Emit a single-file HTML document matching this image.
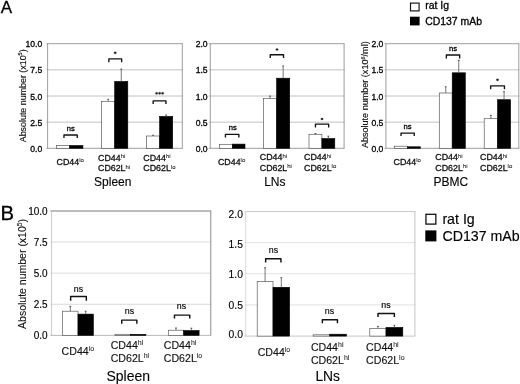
<!DOCTYPE html>
<html><head><meta charset="utf-8"><title>Figure</title>
<style>html,body{margin:0;padding:0;background:#fff;}body{width:520px;height:384px;overflow:hidden;}svg{display:block;will-change:transform;opacity:0.999;font-family:'Liberation Sans', sans-serif;}</style>
</head><body>
<svg width="520" height="384" viewBox="0 0 520 384">
<rect width="520" height="384" fill="#fff"/>
<text x="0.80" y="12.70" font-size="17" text-anchor="start" fill="#000" stroke="#000" stroke-width="0.3" >A</text>
<text x="0.50" y="220.40" font-size="20.3" text-anchor="start" fill="#000" stroke="#000" stroke-width="0.3" >B</text>
<line x1="46.40" y1="69.85" x2="182.80" y2="69.85" stroke="#b2b2b2" stroke-width="0.8"/>
<line x1="46.40" y1="96.00" x2="182.80" y2="96.00" stroke="#b2b2b2" stroke-width="0.8"/>
<line x1="46.40" y1="122.15" x2="182.80" y2="122.15" stroke="#b2b2b2" stroke-width="0.8"/>
<line x1="46.40" y1="43.70" x2="182.80" y2="43.70" stroke="#848484" stroke-width="0.8"/>
<line x1="46.40" y1="148.30" x2="182.80" y2="148.30" stroke="#848484" stroke-width="0.8"/>
<line x1="47.60" y1="43.70" x2="47.60" y2="148.30" stroke="#848484" stroke-width="0.8"/>
<line x1="182.30" y1="43.70" x2="182.30" y2="148.30" stroke="#848484" stroke-width="0.8"/>
<text x="42.20" y="47.25" font-size="8.6" text-anchor="end" fill="#000" stroke="#000" stroke-width="0.3" >10.0</text>
<text x="42.20" y="73.40" font-size="8.6" text-anchor="end" fill="#000" stroke="#000" stroke-width="0.3" >7.5</text>
<text x="42.20" y="99.55" font-size="8.6" text-anchor="end" fill="#000" stroke="#000" stroke-width="0.3" >5.0</text>
<text x="42.20" y="125.70" font-size="8.6" text-anchor="end" fill="#000" stroke="#000" stroke-width="0.3" >2.5</text>
<text x="42.20" y="151.85" font-size="8.6" text-anchor="end" fill="#000" stroke="#000" stroke-width="0.3" >0.0</text>
<line x1="209.10" y1="69.85" x2="344.60" y2="69.85" stroke="#b2b2b2" stroke-width="0.8"/>
<line x1="209.10" y1="96.00" x2="344.60" y2="96.00" stroke="#b2b2b2" stroke-width="0.8"/>
<line x1="209.10" y1="122.15" x2="344.60" y2="122.15" stroke="#b2b2b2" stroke-width="0.8"/>
<line x1="209.10" y1="43.70" x2="344.60" y2="43.70" stroke="#848484" stroke-width="0.8"/>
<line x1="209.10" y1="148.30" x2="344.60" y2="148.30" stroke="#848484" stroke-width="0.8"/>
<line x1="210.30" y1="43.70" x2="210.30" y2="148.30" stroke="#848484" stroke-width="0.8"/>
<line x1="344.10" y1="43.70" x2="344.10" y2="148.30" stroke="#848484" stroke-width="0.8"/>
<text x="207.60" y="47.25" font-size="8.6" text-anchor="end" fill="#000" stroke="#000" stroke-width="0.3" >2.0</text>
<text x="207.60" y="73.40" font-size="8.6" text-anchor="end" fill="#000" stroke="#000" stroke-width="0.3" >1.5</text>
<text x="207.60" y="99.55" font-size="8.6" text-anchor="end" fill="#000" stroke="#000" stroke-width="0.3" >1.0</text>
<text x="207.60" y="125.70" font-size="8.6" text-anchor="end" fill="#000" stroke="#000" stroke-width="0.3" >0.5</text>
<text x="207.60" y="151.85" font-size="8.6" text-anchor="end" fill="#000" stroke="#000" stroke-width="0.3" >0.0</text>
<line x1="384.70" y1="69.85" x2="519.30" y2="69.85" stroke="#b2b2b2" stroke-width="0.8"/>
<line x1="384.70" y1="96.00" x2="519.30" y2="96.00" stroke="#b2b2b2" stroke-width="0.8"/>
<line x1="384.70" y1="122.15" x2="519.30" y2="122.15" stroke="#b2b2b2" stroke-width="0.8"/>
<line x1="384.70" y1="43.70" x2="519.30" y2="43.70" stroke="#848484" stroke-width="0.8"/>
<line x1="384.70" y1="148.30" x2="519.30" y2="148.30" stroke="#848484" stroke-width="0.8"/>
<line x1="385.90" y1="43.70" x2="385.90" y2="148.30" stroke="#848484" stroke-width="0.8"/>
<line x1="518.80" y1="43.70" x2="518.80" y2="148.30" stroke="#848484" stroke-width="0.8"/>
<text x="383.40" y="47.25" font-size="8.6" text-anchor="end" fill="#000" stroke="#000" stroke-width="0.3" >2.0</text>
<text x="383.40" y="73.40" font-size="8.6" text-anchor="end" fill="#000" stroke="#000" stroke-width="0.3" >1.5</text>
<text x="383.40" y="99.55" font-size="8.6" text-anchor="end" fill="#000" stroke="#000" stroke-width="0.3" >1.0</text>
<text x="383.40" y="125.70" font-size="8.6" text-anchor="end" fill="#000" stroke="#000" stroke-width="0.3" >0.5</text>
<text x="383.40" y="151.85" font-size="8.6" text-anchor="end" fill="#000" stroke="#000" stroke-width="0.3" >0.0</text>
<rect x="56.50" y="145.40" width="13.20" height="2.90" fill="#fff" stroke="#505050" stroke-width="0.65"/>
<rect x="69.70" y="145.50" width="13.20" height="2.80" fill="#000" stroke="#000" stroke-width="0.6"/>
<rect x="101.60" y="101.30" width="13.10" height="47.00" fill="#fff" stroke="#505050" stroke-width="0.65"/>
<rect x="114.70" y="81.40" width="13.10" height="66.90" fill="#000" stroke="#000" stroke-width="0.6"/>
<line x1="108.15" y1="99.30" x2="108.15" y2="101.30" stroke="#555" stroke-width="0.8"/>
<line x1="107.25" y1="99.30" x2="109.05" y2="99.30" stroke="#444" stroke-width="0.9"/>
<line x1="121.25" y1="69.10" x2="121.25" y2="81.40" stroke="#555" stroke-width="0.8"/>
<line x1="120.35" y1="69.10" x2="122.15" y2="69.10" stroke="#444" stroke-width="0.9"/>
<rect x="146.50" y="136.00" width="13.10" height="12.30" fill="#fff" stroke="#505050" stroke-width="0.65"/>
<rect x="159.60" y="116.40" width="13.10" height="31.90" fill="#000" stroke="#000" stroke-width="0.6"/>
<line x1="153.05" y1="135.20" x2="153.05" y2="136.00" stroke="#555" stroke-width="0.8"/>
<line x1="152.15" y1="135.20" x2="153.95" y2="135.20" stroke="#444" stroke-width="0.9"/>
<line x1="166.15" y1="115.00" x2="166.15" y2="116.40" stroke="#555" stroke-width="0.8"/>
<line x1="165.25" y1="115.00" x2="167.05" y2="115.00" stroke="#444" stroke-width="0.9"/>
<path d="M63.95 138.10 L63.95 135.00 L77.25 135.00 L77.25 138.10" fill="none" stroke="#111" stroke-width="1.35" stroke-linejoin="round"/>
<text x="70.70" y="130.65" font-size="7.6" text-anchor="middle" fill="#000" stroke="#000" stroke-width="0.3" >ns</text>
<path d="M108.85 62.20 L108.85 58.90 L121.65 58.90 L121.65 62.20" fill="none" stroke="#111" stroke-width="1.35" stroke-linejoin="round"/>
<circle cx="115.20" cy="52.85" r="1.80" fill="#000" fill-opacity="0.13"/>
<ellipse cx="115.20" cy="52.85" rx="1.25" ry="1.05" fill="#1a1a1a"/>
<path d="M153.15 104.10 L153.15 100.90 L165.95 100.90 L165.95 104.10" fill="none" stroke="#111" stroke-width="1.35" stroke-linejoin="round"/>
<circle cx="156.60" cy="93.35" r="1.80" fill="#000" fill-opacity="0.13"/>
<ellipse cx="156.60" cy="93.35" rx="1.25" ry="1.05" fill="#1a1a1a"/>
<circle cx="159.60" cy="93.35" r="1.80" fill="#000" fill-opacity="0.13"/>
<ellipse cx="159.60" cy="93.35" rx="1.25" ry="1.05" fill="#1a1a1a"/>
<circle cx="162.60" cy="93.35" r="1.80" fill="#000" fill-opacity="0.13"/>
<ellipse cx="162.60" cy="93.35" rx="1.25" ry="1.05" fill="#1a1a1a"/>
<rect x="219.40" y="144.30" width="12.90" height="4.00" fill="#fff" stroke="#505050" stroke-width="0.65"/>
<rect x="232.30" y="144.10" width="12.70" height="4.20" fill="#000" stroke="#000" stroke-width="0.6"/>
<rect x="263.50" y="98.40" width="13.10" height="49.90" fill="#fff" stroke="#505050" stroke-width="0.65"/>
<rect x="276.60" y="78.20" width="13.10" height="70.10" fill="#000" stroke="#000" stroke-width="0.6"/>
<line x1="270.05" y1="96.10" x2="270.05" y2="98.40" stroke="#555" stroke-width="0.8"/>
<line x1="269.15" y1="96.10" x2="270.95" y2="96.10" stroke="#444" stroke-width="0.9"/>
<line x1="283.15" y1="66.00" x2="283.15" y2="78.20" stroke="#555" stroke-width="0.8"/>
<line x1="282.25" y1="66.00" x2="284.05" y2="66.00" stroke="#444" stroke-width="0.9"/>
<rect x="309.00" y="134.30" width="12.90" height="14.00" fill="#fff" stroke="#505050" stroke-width="0.65"/>
<rect x="321.90" y="138.50" width="12.90" height="9.80" fill="#000" stroke="#000" stroke-width="0.6"/>
<line x1="315.45" y1="133.50" x2="315.45" y2="134.30" stroke="#555" stroke-width="0.8"/>
<line x1="314.55" y1="133.50" x2="316.35" y2="133.50" stroke="#444" stroke-width="0.9"/>
<line x1="328.35" y1="136.20" x2="328.35" y2="138.50" stroke="#555" stroke-width="0.8"/>
<line x1="327.45" y1="136.20" x2="329.25" y2="136.20" stroke="#444" stroke-width="0.9"/>
<path d="M225.45 137.40 L225.45 134.30 L238.85 134.30 L238.85 137.40" fill="none" stroke="#111" stroke-width="1.35" stroke-linejoin="round"/>
<text x="232.80" y="129.55" font-size="7.6" text-anchor="middle" fill="#000" stroke="#000" stroke-width="0.3" >ns</text>
<path d="M270.25 58.00 L270.25 54.70 L283.55 54.70 L283.55 58.00" fill="none" stroke="#111" stroke-width="1.35" stroke-linejoin="round"/>
<circle cx="277.00" cy="49.45" r="1.80" fill="#000" fill-opacity="0.13"/>
<ellipse cx="277.00" cy="49.45" rx="1.25" ry="1.05" fill="#1a1a1a"/>
<path d="M315.45 127.40 L315.45 124.10 L328.65 124.10 L328.65 127.40" fill="none" stroke="#111" stroke-width="1.35" stroke-linejoin="round"/>
<circle cx="322.00" cy="119.05" r="1.80" fill="#000" fill-opacity="0.13"/>
<ellipse cx="322.00" cy="119.05" rx="1.25" ry="1.05" fill="#1a1a1a"/>
<rect x="394.30" y="146.20" width="13.10" height="2.10" fill="#fff" stroke="#505050" stroke-width="0.65"/>
<rect x="407.40" y="146.80" width="13.10" height="1.50" fill="#000" stroke="#000" stroke-width="0.6"/>
<rect x="439.30" y="93.00" width="12.90" height="55.30" fill="#fff" stroke="#505050" stroke-width="0.65"/>
<rect x="452.20" y="72.80" width="13.10" height="75.50" fill="#000" stroke="#000" stroke-width="0.6"/>
<line x1="445.75" y1="86.80" x2="445.75" y2="93.00" stroke="#555" stroke-width="0.8"/>
<line x1="444.85" y1="86.80" x2="446.65" y2="86.80" stroke="#444" stroke-width="0.9"/>
<line x1="458.75" y1="60.30" x2="458.75" y2="72.80" stroke="#555" stroke-width="0.8"/>
<line x1="457.85" y1="60.30" x2="459.65" y2="60.30" stroke="#444" stroke-width="0.9"/>
<rect x="484.20" y="118.70" width="13.30" height="29.60" fill="#fff" stroke="#505050" stroke-width="0.65"/>
<rect x="497.50" y="99.70" width="13.10" height="48.60" fill="#000" stroke="#000" stroke-width="0.6"/>
<line x1="490.85" y1="115.40" x2="490.85" y2="118.70" stroke="#555" stroke-width="0.8"/>
<line x1="489.95" y1="115.40" x2="491.75" y2="115.40" stroke="#444" stroke-width="0.9"/>
<line x1="504.05" y1="91.70" x2="504.05" y2="99.70" stroke="#555" stroke-width="0.8"/>
<line x1="503.15" y1="91.70" x2="504.95" y2="91.70" stroke="#444" stroke-width="0.9"/>
<path d="M401.05 136.00 L401.05 133.10 L414.25 133.10 L414.25 136.00" fill="none" stroke="#111" stroke-width="1.35" stroke-linejoin="round"/>
<text x="407.60" y="128.65" font-size="7.6" text-anchor="middle" fill="#000" stroke="#000" stroke-width="0.3" >ns</text>
<path d="M446.35 58.40 L446.35 55.00 L459.65 55.00 L459.65 58.40" fill="none" stroke="#111" stroke-width="1.35" stroke-linejoin="round"/>
<text x="453.10" y="51.35" font-size="7.6" text-anchor="middle" fill="#000" stroke="#000" stroke-width="0.3" >ns</text>
<path d="M490.65 89.20 L490.65 85.90 L504.45 85.90 L504.45 89.20" fill="none" stroke="#111" stroke-width="1.35" stroke-linejoin="round"/>
<circle cx="497.50" cy="79.85" r="1.80" fill="#000" fill-opacity="0.13"/>
<ellipse cx="497.50" cy="79.85" rx="1.25" ry="1.05" fill="#1a1a1a"/>
<text x="56.60" y="164.90" font-size="8.85" fill="#111" stroke="#111" stroke-width="0.3">CD44<tspan font-size="6.0" dy="-2.57" stroke-width="0.1" fill="#333">lo</tspan></text>
<text x="217.95" y="164.50" font-size="8.85" fill="#111" stroke="#111" stroke-width="0.3">CD44<tspan font-size="6.0" dy="-2.57" stroke-width="0.1" fill="#333">lo</tspan></text>
<text x="393.55" y="164.55" font-size="8.85" fill="#111" stroke="#111" stroke-width="0.3">CD44<tspan font-size="6.0" dy="-2.57" stroke-width="0.1" fill="#333">lo</tspan></text>
<text x="98.00" y="160.60" font-size="8.85" fill="#111" stroke="#111" stroke-width="0.3">CD44<tspan font-size="6.0" dy="-2.57" stroke-width="0.1" fill="#333">hi</tspan></text>
<text x="98.00" y="171.15" font-size="8.85" fill="#111" stroke="#111" stroke-width="0.3">CD62L<tspan font-size="6.0" dy="-2.57" stroke-width="0.1" fill="#333">hi</tspan></text>
<text x="259.75" y="160.20" font-size="8.85" fill="#111" stroke="#111" stroke-width="0.3">CD44<tspan font-size="6.0" dy="-2.57" stroke-width="0.1" fill="#333">hi</tspan></text>
<text x="259.75" y="170.75" font-size="8.85" fill="#111" stroke="#111" stroke-width="0.3">CD62L<tspan font-size="6.0" dy="-2.57" stroke-width="0.1" fill="#333">hi</tspan></text>
<text x="435.35" y="160.25" font-size="8.85" fill="#111" stroke="#111" stroke-width="0.3">CD44<tspan font-size="6.0" dy="-2.57" stroke-width="0.1" fill="#333">hi</tspan></text>
<text x="435.35" y="170.80" font-size="8.85" fill="#111" stroke="#111" stroke-width="0.3">CD62L<tspan font-size="6.0" dy="-2.57" stroke-width="0.1" fill="#333">hi</tspan></text>
<text x="143.30" y="160.60" font-size="8.85" fill="#111" stroke="#111" stroke-width="0.3">CD44<tspan font-size="6.0" dy="-2.57" stroke-width="0.1" fill="#333">hi</tspan></text>
<text x="143.30" y="171.15" font-size="8.85" fill="#111" stroke="#111" stroke-width="0.3">CD62L<tspan font-size="6.0" dy="-2.57" stroke-width="0.1" fill="#333">lo</tspan></text>
<text x="304.05" y="160.20" font-size="8.85" fill="#111" stroke="#111" stroke-width="0.3">CD44<tspan font-size="6.0" dy="-2.57" stroke-width="0.1" fill="#333">hi</tspan></text>
<text x="304.05" y="170.75" font-size="8.85" fill="#111" stroke="#111" stroke-width="0.3">CD62L<tspan font-size="6.0" dy="-2.57" stroke-width="0.1" fill="#333">lo</tspan></text>
<text x="480.05" y="160.25" font-size="8.85" fill="#111" stroke="#111" stroke-width="0.3">CD44<tspan font-size="6.0" dy="-2.57" stroke-width="0.1" fill="#333">hi</tspan></text>
<text x="480.05" y="170.80" font-size="8.85" fill="#111" stroke="#111" stroke-width="0.3">CD62L<tspan font-size="6.0" dy="-2.57" stroke-width="0.1" fill="#333">lo</tspan></text>
<text x="94.10" y="186.40" font-size="12.0" text-anchor="start" fill="#000" stroke="#000" stroke-width="0.12" >Spleen</text>
<text x="264.20" y="186.40" font-size="12.0" text-anchor="start" fill="#000" stroke="#000" stroke-width="0.12" >LNs</text>
<text x="433.40" y="186.40" font-size="12.0" text-anchor="start" fill="#000" stroke="#000" stroke-width="0.12" >PBMC</text>
<text transform="translate(25.60 95.80) rotate(-90)" font-size="8.9" text-anchor="middle" fill="#111" stroke="#111" stroke-width="0.15">Absolute number (x10<tspan font-size="5.52" dy="-3.20">5</tspan><tspan dy="3.20">)</tspan></text>
<text transform="translate(368.30 94.70) rotate(-90)" font-size="9.05" text-anchor="middle" fill="#111" stroke="#111" stroke-width="0.15">Absolute number (x10<tspan font-size="5.61" dy="-3.26">6</tspan><tspan dy="3.26">/ml)</tspan></text>
<rect x="410.5" y="3.1" width="8.6" height="7.8" fill="#fff" stroke="#111" stroke-width="1.15"/>
<rect x="410" y="16.7" width="9.6" height="8.7" fill="#000"/>
<text x="425.20" y="9.30" font-size="10.45" text-anchor="start" fill="#000" stroke="#000" stroke-width="0.3" >rat Ig</text>
<text x="425.20" y="24.60" font-size="10.45" text-anchor="start" fill="#000" stroke="#000" stroke-width="0.3" >CD137 mAb</text>
<line x1="50.40" y1="242.00" x2="211.20" y2="242.00" stroke="#d2d2d2" stroke-width="0.8"/>
<line x1="50.40" y1="273.15" x2="211.20" y2="273.15" stroke="#d2d2d2" stroke-width="0.8"/>
<line x1="50.40" y1="304.30" x2="211.20" y2="304.30" stroke="#d2d2d2" stroke-width="0.8"/>
<line x1="50.40" y1="210.90" x2="211.20" y2="210.90" stroke="#a6a6a6" stroke-width="1.45"/>
<line x1="50.40" y1="335.40" x2="211.20" y2="335.40" stroke="#a6a6a6" stroke-width="0.8"/>
<line x1="51.60" y1="210.90" x2="51.60" y2="335.40" stroke="#bcbcbc" stroke-width="0.8"/>
<line x1="210.70" y1="210.90" x2="210.70" y2="335.40" stroke="#a6a6a6" stroke-width="1.3"/>
<text x="47.70" y="214.60" font-size="10.0" text-anchor="end" fill="#000" stroke="#000" stroke-width="0.14" >10.0</text>
<text x="47.70" y="245.70" font-size="10.0" text-anchor="end" fill="#000" stroke="#000" stroke-width="0.14" >7.5</text>
<text x="47.70" y="276.85" font-size="10.0" text-anchor="end" fill="#000" stroke="#000" stroke-width="0.14" >5.0</text>
<text x="47.70" y="308.00" font-size="10.0" text-anchor="end" fill="#000" stroke="#000" stroke-width="0.14" >2.5</text>
<text x="47.70" y="339.10" font-size="10.0" text-anchor="end" fill="#000" stroke="#000" stroke-width="0.14" >0.0</text>
<line x1="244.50" y1="242.60" x2="415.40" y2="242.60" stroke="#dadada" stroke-width="0.8"/>
<line x1="244.50" y1="273.70" x2="415.40" y2="273.70" stroke="#dadada" stroke-width="0.8"/>
<line x1="244.50" y1="304.90" x2="415.40" y2="304.90" stroke="#dadada" stroke-width="0.8"/>
<line x1="244.50" y1="211.60" x2="415.40" y2="211.60" stroke="#b8b8b8" stroke-width="0.8"/>
<line x1="244.50" y1="336.10" x2="415.40" y2="336.10" stroke="#b8b8b8" stroke-width="0.8"/>
<line x1="245.70" y1="211.60" x2="245.70" y2="336.10" stroke="#cecece" stroke-width="0.8"/>
<line x1="414.90" y1="211.60" x2="414.90" y2="336.10" stroke="#b8b8b8" stroke-width="0.8"/>
<text x="242.90" y="217.61" font-size="10.3" text-anchor="end" fill="#000" stroke="#000" stroke-width="0.14" >2.0</text>
<text x="242.90" y="247.61" font-size="10.3" text-anchor="end" fill="#000" stroke="#000" stroke-width="0.14" >1.5</text>
<text x="242.90" y="278.01" font-size="10.3" text-anchor="end" fill="#000" stroke="#000" stroke-width="0.14" >1.0</text>
<text x="242.90" y="308.51" font-size="10.3" text-anchor="end" fill="#000" stroke="#000" stroke-width="0.14" >0.5</text>
<text x="242.90" y="338.21" font-size="10.3" text-anchor="end" fill="#000" stroke="#000" stroke-width="0.14" >0.0</text>
<rect x="62.60" y="311.20" width="15.40" height="24.20" fill="#fff" stroke="#505050" stroke-width="0.65"/>
<rect x="78.00" y="314.10" width="15.40" height="21.30" fill="#000" stroke="#000" stroke-width="0.6"/>
<line x1="70.30" y1="306.40" x2="70.30" y2="311.20" stroke="#555" stroke-width="0.8"/>
<line x1="69.40" y1="306.40" x2="71.20" y2="306.40" stroke="#444" stroke-width="0.9"/>
<line x1="85.70" y1="311.20" x2="85.70" y2="314.10" stroke="#555" stroke-width="0.8"/>
<line x1="84.80" y1="311.20" x2="86.60" y2="311.20" stroke="#444" stroke-width="0.9"/>
<rect x="115.00" y="334.30" width="15.50" height="1.10" fill="#fff" stroke="#505050" stroke-width="0.65"/>
<rect x="130.50" y="334.30" width="15.40" height="1.10" fill="#000" stroke="#000" stroke-width="0.6"/>
<rect x="168.30" y="330.20" width="15.40" height="5.20" fill="#fff" stroke="#505050" stroke-width="0.65"/>
<rect x="183.70" y="330.50" width="15.40" height="4.90" fill="#000" stroke="#000" stroke-width="0.6"/>
<line x1="176.00" y1="328.00" x2="176.00" y2="330.20" stroke="#555" stroke-width="0.8"/>
<line x1="175.10" y1="328.00" x2="176.90" y2="328.00" stroke="#444" stroke-width="0.9"/>
<line x1="191.40" y1="328.20" x2="191.40" y2="330.50" stroke="#555" stroke-width="0.8"/>
<line x1="190.50" y1="328.20" x2="192.30" y2="328.20" stroke="#444" stroke-width="0.9"/>
<path d="M70.65 300.70 L70.65 296.40 L86.35 296.40 L86.35 300.70" fill="none" stroke="#111" stroke-width="1.45" stroke-linejoin="round"/>
<text x="78.50" y="291.88" font-size="8.8" text-anchor="middle" fill="#000" stroke="#000" stroke-width="0.14" >ns</text>
<path d="M121.75 323.80 L121.75 320.10 L136.85 320.10 L136.85 323.80" fill="none" stroke="#111" stroke-width="1.45" stroke-linejoin="round"/>
<text x="129.50" y="313.78" font-size="8.8" text-anchor="middle" fill="#000" stroke="#000" stroke-width="0.14" >ns</text>
<path d="M174.45 318.60 L174.45 315.10 L189.75 315.10 L189.75 318.60" fill="none" stroke="#111" stroke-width="1.45" stroke-linejoin="round"/>
<text x="181.40" y="309.38" font-size="8.8" text-anchor="middle" fill="#000" stroke="#000" stroke-width="0.14" >ns</text>
<rect x="257.20" y="281.60" width="15.80" height="54.50" fill="#fff" stroke="#505050" stroke-width="0.65"/>
<rect x="273.00" y="287.30" width="16.60" height="48.80" fill="#000" stroke="#000" stroke-width="0.6"/>
<line x1="265.10" y1="267.80" x2="265.10" y2="281.60" stroke="#555" stroke-width="0.8"/>
<line x1="264.20" y1="267.80" x2="266.00" y2="267.80" stroke="#444" stroke-width="0.9"/>
<line x1="281.30" y1="277.70" x2="281.30" y2="287.30" stroke="#555" stroke-width="0.8"/>
<line x1="280.40" y1="277.70" x2="282.20" y2="277.70" stroke="#444" stroke-width="0.9"/>
<rect x="313.10" y="334.80" width="16.60" height="1.30" fill="#fff" stroke="#505050" stroke-width="0.65"/>
<rect x="329.70" y="334.20" width="16.80" height="1.90" fill="#000" stroke="#000" stroke-width="0.6"/>
<rect x="369.80" y="328.40" width="16.20" height="7.70" fill="#fff" stroke="#505050" stroke-width="0.65"/>
<rect x="386.00" y="327.40" width="16.80" height="8.70" fill="#000" stroke="#000" stroke-width="0.6"/>
<line x1="377.90" y1="326.40" x2="377.90" y2="328.40" stroke="#555" stroke-width="0.8"/>
<line x1="377.00" y1="326.40" x2="378.80" y2="326.40" stroke="#444" stroke-width="0.9"/>
<line x1="394.40" y1="325.40" x2="394.40" y2="327.40" stroke="#555" stroke-width="0.8"/>
<line x1="393.50" y1="325.40" x2="395.30" y2="325.40" stroke="#444" stroke-width="0.9"/>
<path d="M265.65 262.40 L265.65 258.80 L280.95 258.80 L280.95 262.40" fill="none" stroke="#111" stroke-width="1.45" stroke-linejoin="round"/>
<text x="273.40" y="252.88" font-size="8.8" text-anchor="middle" fill="#000" stroke="#000" stroke-width="0.14" >ns</text>
<path d="M322.35 323.20 L322.35 319.70 L337.45 319.70 L337.45 323.20" fill="none" stroke="#111" stroke-width="1.45" stroke-linejoin="round"/>
<text x="329.50" y="313.78" font-size="8.8" text-anchor="middle" fill="#000" stroke="#000" stroke-width="0.14" >ns</text>
<path d="M378.05 317.00 L378.05 313.40 L394.35 313.40 L394.35 317.00" fill="none" stroke="#111" stroke-width="1.45" stroke-linejoin="round"/>
<text x="386.00" y="307.68" font-size="8.8" text-anchor="middle" fill="#000" stroke="#000" stroke-width="0.14" >ns</text>
<text x="61.60" y="354.90" font-size="10.6" fill="#111" stroke="#111" stroke-width="0.14">CD44<tspan font-size="7.0" dy="-4.03" stroke-width="0.1" fill="#333">lo</tspan></text>
<text x="110.70" y="349.20" font-size="10.6" fill="#111" stroke="#111" stroke-width="0.14">CD44<tspan font-size="7.0" dy="-4.03" stroke-width="0.1" fill="#333">hi</tspan></text>
<text x="110.70" y="361.90" font-size="10.6" fill="#111" stroke="#111" stroke-width="0.14">CD62L<tspan font-size="7.0" dy="-4.03" stroke-width="0.1" fill="#333">hi</tspan></text>
<text x="163.80" y="349.20" font-size="10.6" fill="#111" stroke="#111" stroke-width="0.14">CD44<tspan font-size="7.0" dy="-4.03" stroke-width="0.1" fill="#333">hi</tspan></text>
<text x="163.80" y="361.90" font-size="10.6" fill="#111" stroke="#111" stroke-width="0.14">CD62L<tspan font-size="7.0" dy="-4.03" stroke-width="0.1" fill="#333">lo</tspan></text>
<text x="257.70" y="356.00" font-size="10.6" fill="#111" stroke="#111" stroke-width="0.14">CD44<tspan font-size="7.0" dy="-4.03" stroke-width="0.1" fill="#333">lo</tspan></text>
<text x="310.90" y="350.80" font-size="10.6" fill="#111" stroke="#111" stroke-width="0.14">CD44<tspan font-size="7.0" dy="-4.03" stroke-width="0.1" fill="#333">hi</tspan></text>
<text x="310.90" y="363.90" font-size="10.6" fill="#111" stroke="#111" stroke-width="0.14">CD62L<tspan font-size="7.0" dy="-4.03" stroke-width="0.1" fill="#333">hi</tspan></text>
<text x="366.10" y="350.80" font-size="10.6" fill="#111" stroke="#111" stroke-width="0.14">CD44<tspan font-size="7.0" dy="-4.03" stroke-width="0.1" fill="#333">hi</tspan></text>
<text x="366.10" y="363.90" font-size="10.6" fill="#111" stroke="#111" stroke-width="0.14">CD62L<tspan font-size="7.0" dy="-4.03" stroke-width="0.1" fill="#333">lo</tspan></text>
<text x="106.40" y="380.60" font-size="14.0" text-anchor="start" fill="#000" stroke="#000" stroke-width="0.1" >Spleen</text>
<text x="315.40" y="381.00" font-size="13.8" text-anchor="start" fill="#000" stroke="#000" stroke-width="0.1" >LNs</text>
<text transform="translate(26.10 274.00) rotate(-90)" font-size="10.5" text-anchor="middle" fill="#111" stroke="#111" stroke-width="0.1">Absolute number (x10<tspan font-size="6.51" dy="-3.78">5</tspan><tspan dy="3.78">)</tspan></text>
<rect x="425.95" y="214.3" width="9.9" height="9.8" fill="#fff" stroke="#111" stroke-width="1.3"/>
<rect x="425.3" y="230.4" width="11.1" height="11.0" fill="#000"/>
<text x="442.40" y="223.80" font-size="14.2" text-anchor="start" fill="#000" stroke="#000" stroke-width="0.14" >rat Ig</text>
<text x="442.40" y="241.00" font-size="14.2" text-anchor="start" fill="#000" stroke="#000" stroke-width="0.14" >CD137 mAb</text>
</svg></body></html>
